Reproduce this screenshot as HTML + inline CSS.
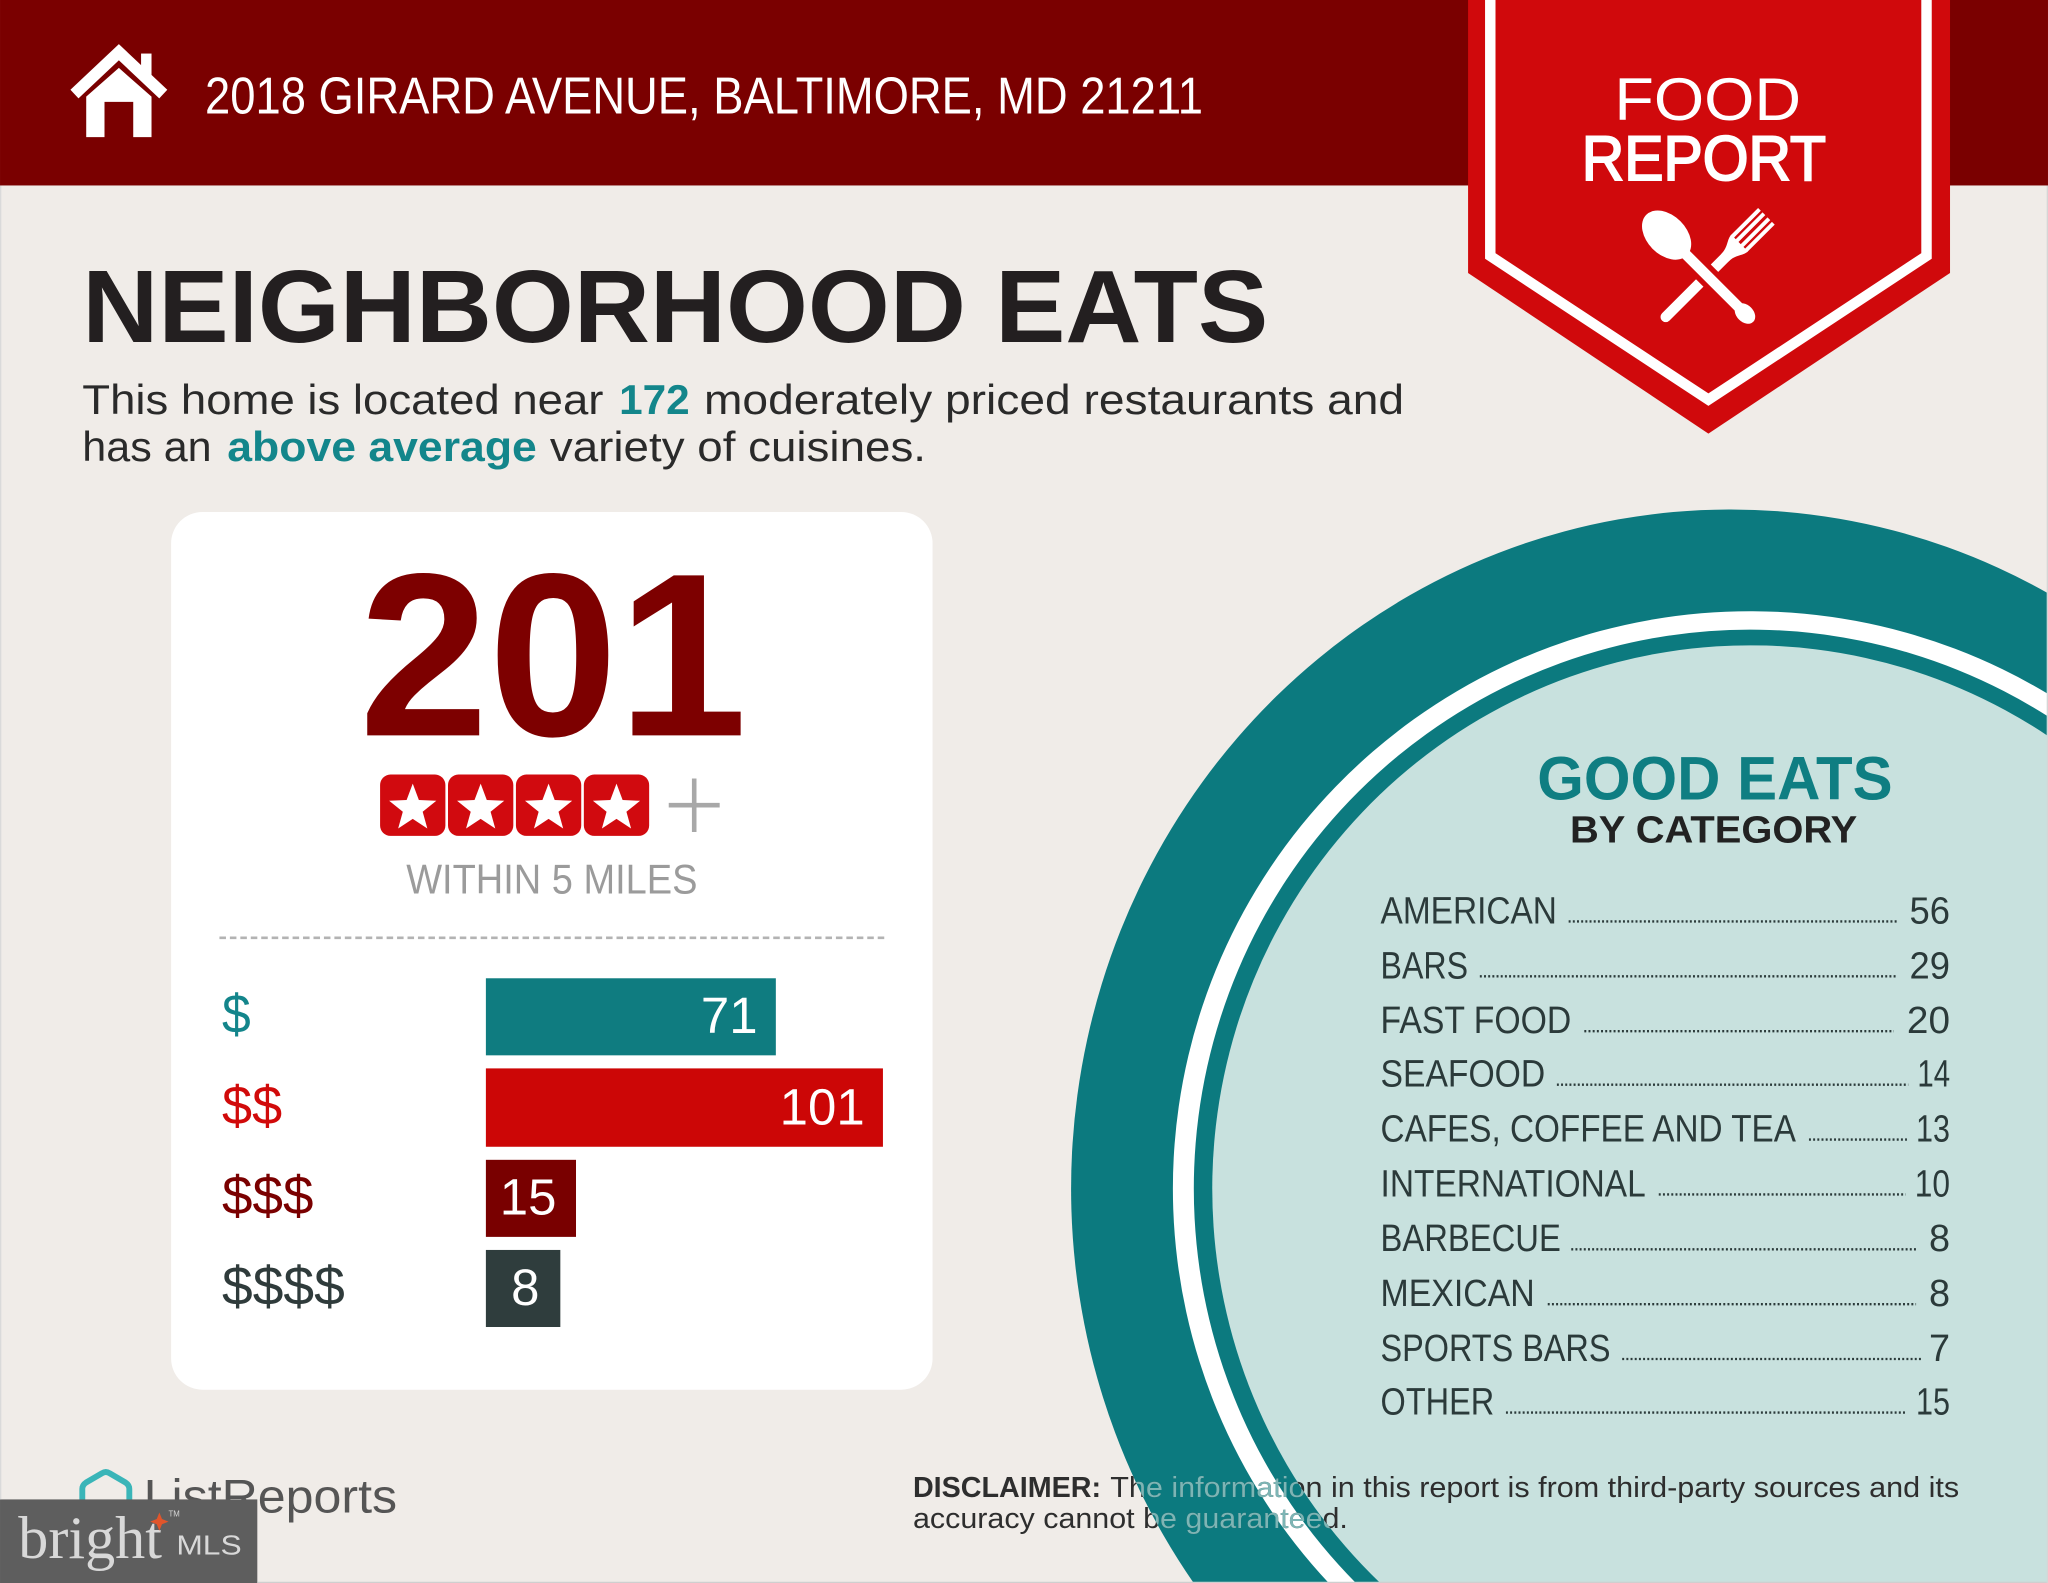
<!DOCTYPE html>
<html>
<head>
<meta charset="utf-8">
<style>
  html,body{margin:0;padding:0;background:#f0ece8;overflow:hidden;width:2048px;height:1583px;}
  svg{display:block;position:absolute;left:0;top:0;}
  text{font-family:"Liberation Sans", sans-serif;}
</style>
</head>
<body>
<svg width="2048" height="1583" viewBox="0 0 1568 1212" xmlns="http://www.w3.org/2000/svg">
  <defs>
    <clipPath id="ring">
      <path clip-rule="evenodd" d="M913.9,1212 A505,520 0 0,1 1568,454.2 L1568,1212 Z M1056.7,1212 A412,416 0 0,1 1568,563.5 L1568,1212 Z"/>
    </clipPath>
    <polygon id="star" points="0,-1 0.247,-0.340 0.951,-0.309 0.400,0.130 0.588,0.809 0,0.420 -0.588,0.809 -0.400,0.130 -0.951,-0.309 -0.247,-0.340" fill="#ffffff"/>
  </defs>

  <!-- background -->
  <rect x="0" y="0" width="1568" height="1212" fill="#f0ece8"/>

  <!-- big teal ellipse (clipped to frame) -->
  <path d="M913.9,1212 A505,520 0 0,1 1568,454.2 L1568,1212 Z" fill="#0c7a7f"/>
  <path d="M1017.3,1212 A442,442 0 0,1 1568,531.3 L1568,1212 Z" fill="#ffffff"/>
  <path d="M1038.1,1212 A426,428 0 0,1 1568,548.5 L1568,1212 Z" fill="#0c7a7f"/>
  <path d="M1056.7,1212 A412,416 0 0,1 1568,563.5 L1568,1212 Z" fill="#c8e1de"/>

  <!-- header band -->
  <rect x="0" y="0" width="1568" height="142" fill="#7a0000"/>

  <!-- house icon -->
  <polyline points="57,72 91,40 125,72" fill="none" stroke="#ffffff" stroke-width="9" stroke-linejoin="miter"/>
  <rect x="108" y="41" width="8" height="18" fill="#ffffff"/>
  <path fill-rule="evenodd" fill="#ffffff" d="M66,105 V74 L91,52 L116,74 V105 Z M80,105 V78 H102 V105 Z"/>

  <text x="157" y="87" font-size="40" fill="#ffffff" textLength="764" lengthAdjust="spacingAndGlyphs">2018 GIRARD AVENUE, BALTIMORE, MD 21211</text>

  <!-- food report banner -->
  <polygon points="1124,0 1493,0 1493,209 1308,332 1124,209" fill="#d0090c"/>
  <polyline points="1141,0 1141,196 1308,306 1475,196 1475,0" fill="none" stroke="#ffffff" stroke-width="8" stroke-linejoin="miter"/>
  <text x="1236" y="92" font-size="46" fill="#ffffff" textLength="143" lengthAdjust="spacingAndGlyphs">FOOD</text>
  <text x="1211" y="138" font-size="48" fill="#ffffff" stroke="#ffffff" stroke-width="1.5" textLength="187" lengthAdjust="spacingAndGlyphs">REPORT</text>

  <!-- fork -->
  <g transform="translate(1322,196) rotate(-45)" fill="#ffffff">
    <line x1="-66" y1="0" x2="0" y2="0" stroke="#ffffff" stroke-width="8" stroke-linecap="round"/>
    <path d="M-2,-4 C6,-4 9,-9 14,-9 L14,9 C9,9 6,4 -2,4 Z"/>
    <rect x="13" y="-9" width="30" height="3"/>
    <rect x="13" y="-4.2" width="30" height="3"/>
    <rect x="13" y="1.2" width="30" height="3"/>
    <rect x="13" y="6" width="30" height="3"/>
  </g>
  <!-- spoon -->
  <line x1="1299" y1="203" x2="1315" y2="219" stroke="#d0090c" stroke-width="16"/>
  <line x1="1288" y1="192" x2="1334" y2="238" stroke="#ffffff" stroke-width="8" stroke-linecap="round"/>
  <ellipse cx="1336" cy="240" rx="9" ry="6.5" transform="rotate(45 1336 240)" fill="#ffffff"/>
  <ellipse cx="1276" cy="180" rx="22" ry="15" transform="rotate(45 1276 180)" fill="#ffffff"/>

  <!-- title -->
  <text x="63" y="262" font-size="79" font-weight="bold" fill="#231f20" textLength="908" lengthAdjust="spacingAndGlyphs">NEIGHBORHOOD EATS</text>

  <!-- paragraph -->
  <text x="63" y="317" font-size="32" fill="#2a2a2a" textLength="399" lengthAdjust="spacingAndGlyphs">This home is located near</text>
  <text x="474" y="317" font-size="32" font-weight="bold" fill="#13868b" textLength="54" lengthAdjust="spacingAndGlyphs">172</text>
  <text x="539" y="317" font-size="32" fill="#2a2a2a" textLength="536" lengthAdjust="spacingAndGlyphs">moderately priced restaurants and</text>
  <text x="63" y="353" font-size="32" fill="#2a2a2a" textLength="99" lengthAdjust="spacingAndGlyphs">has an</text>
  <text x="174" y="353" font-size="32" font-weight="bold" fill="#13868b" textLength="237" lengthAdjust="spacingAndGlyphs">above average</text>
  <text x="421" y="353" font-size="32" fill="#2a2a2a" textLength="288" lengthAdjust="spacingAndGlyphs">variety of cuisines.</text>

  <!-- white card -->
  <rect x="131" y="392" width="583" height="672" rx="24" ry="24" fill="#ffffff"/>

  <text x="275" y="563" font-size="178" font-weight="bold" fill="#7d0000" textLength="297" lengthAdjust="spacingAndGlyphs">201</text>

  <!-- stars -->
  <g>
    <rect x="291" y="593" width="50" height="47" rx="8" fill="#d10a0f"/>
    <rect x="343" y="593" width="50" height="47" rx="8" fill="#d10a0f"/>
    <rect x="395" y="593" width="50" height="47" rx="8" fill="#d10a0f"/>
    <rect x="447" y="593" width="50" height="47" rx="8" fill="#d10a0f"/>
    <use href="#star" transform="translate(316,619) scale(19)"/>
    <use href="#star" transform="translate(368,619) scale(19)"/>
    <use href="#star" transform="translate(420,619) scale(19)"/>
    <use href="#star" transform="translate(472,619) scale(19)"/>
  </g>
  <line x1="512" y1="616.5" x2="551" y2="616.5" stroke="#a8a8a8" stroke-width="3.5"/>
  <line x1="531.5" y1="596" x2="531.5" y2="637" stroke="#a8a8a8" stroke-width="3.5"/>

  <text x="311" y="684" font-size="32" fill="#9b9b9b" textLength="223" lengthAdjust="spacingAndGlyphs">WITHIN 5 MILES</text>

  <line x1="168" y1="718" x2="677" y2="718" stroke="#b3b3b3" stroke-width="2" stroke-dasharray="5 3"/>

  <!-- bars -->
  <text x="170" y="791" font-size="42" fill="#13858b" textLength="22" lengthAdjust="spacingAndGlyphs">$</text>
  <text x="170" y="861" font-size="42" fill="#d10a0a" textLength="46" lengthAdjust="spacingAndGlyphs">$$</text>
  <text x="170" y="930" font-size="42" fill="#7a0000" textLength="70" lengthAdjust="spacingAndGlyphs">$$$</text>
  <text x="170" y="999" font-size="42" fill="#2f3b3b" textLength="94" lengthAdjust="spacingAndGlyphs">$$$$</text>

  <rect x="372" y="749" width="222" height="59" fill="#0f7c80"/>
  <rect x="372" y="818" width="304" height="60" fill="#cc0606"/>
  <rect x="372" y="888" width="69" height="59" fill="#790000"/>
  <rect x="372" y="957" width="57" height="59" fill="#2f3d3d"/>

  <text x="580" y="791" font-size="39" fill="#ffffff" text-anchor="end">71</text>
  <text x="662" y="861" font-size="39" fill="#ffffff" text-anchor="end">101</text>
  <text x="426" y="930" font-size="39" fill="#ffffff" text-anchor="end">15</text>
  <text x="413" y="999" font-size="39" fill="#ffffff" text-anchor="end">8</text>

  <!-- good eats -->
  <text x="1177" y="612" font-size="47" font-weight="bold" fill="#0f7e82" textLength="272" lengthAdjust="spacingAndGlyphs">GOOD EATS</text>
  <text x="1202" y="645" font-size="29" font-weight="bold" fill="#222222" textLength="220" lengthAdjust="spacingAndGlyphs">BY CATEGORY</text>

  <g font-size="29" fill="#2b3a3a">
    <text x="1057" y="707" textLength="135" lengthAdjust="spacingAndGlyphs">AMERICAN</text>
    <text x="1462" y="707" textLength="31" lengthAdjust="spacingAndGlyphs">56</text>
    <text x="1057" y="749" textLength="67" lengthAdjust="spacingAndGlyphs">BARS</text>
    <text x="1462" y="749" textLength="31" lengthAdjust="spacingAndGlyphs">29</text>
    <text x="1057" y="791" textLength="146" lengthAdjust="spacingAndGlyphs">FAST FOOD</text>
    <text x="1460" y="791" textLength="33" lengthAdjust="spacingAndGlyphs">20</text>
    <text x="1057" y="832" textLength="126" lengthAdjust="spacingAndGlyphs">SEAFOOD</text>
    <text x="1468" y="832" textLength="25" lengthAdjust="spacingAndGlyphs">14</text>
    <text x="1057" y="874" textLength="318" lengthAdjust="spacingAndGlyphs">CAFES, COFFEE AND TEA</text>
    <text x="1467" y="874" textLength="26" lengthAdjust="spacingAndGlyphs">13</text>
    <text x="1057" y="916" textLength="203" lengthAdjust="spacingAndGlyphs">INTERNATIONAL</text>
    <text x="1466" y="916" textLength="27" lengthAdjust="spacingAndGlyphs">10</text>
    <text x="1057" y="958" textLength="138" lengthAdjust="spacingAndGlyphs">BARBECUE</text>
    <text x="1493" y="958" text-anchor="end">8</text>
    <text x="1057" y="1000" textLength="118" lengthAdjust="spacingAndGlyphs">MEXICAN</text>
    <text x="1493" y="1000" text-anchor="end">8</text>
    <text x="1057" y="1042" textLength="176" lengthAdjust="spacingAndGlyphs">SPORTS BARS</text>
    <text x="1493" y="1042" text-anchor="end">7</text>
    <text x="1057" y="1083" textLength="87" lengthAdjust="spacingAndGlyphs">OTHER</text>
    <text x="1467" y="1083" textLength="26" lengthAdjust="spacingAndGlyphs">15</text>
  </g>
  <g stroke="#2b3a3a" stroke-width="1.8" stroke-dasharray="1.5 1.7">
    <line x1="1201" y1="705.5" x2="1453" y2="705.5"/>
    <line x1="1133" y1="747.5" x2="1453" y2="747.5"/>
    <line x1="1213" y1="789.5" x2="1450" y2="789.5"/>
    <line x1="1192" y1="830.5" x2="1461" y2="830.5"/>
    <line x1="1385" y1="872.5" x2="1460" y2="872.5"/>
    <line x1="1270" y1="914.5" x2="1459" y2="914.5"/>
    <line x1="1203" y1="956.5" x2="1467" y2="956.5"/>
    <line x1="1185" y1="998.5" x2="1467" y2="998.5"/>
    <line x1="1242" y1="1040.5" x2="1472" y2="1040.5"/>
    <line x1="1153" y1="1081.5" x2="1460" y2="1081.5"/>
  </g>

  <!-- disclaimer -->
  <g font-size="22" fill="#2e2e2e">
    <text x="699" y="1146" font-weight="bold" textLength="144" lengthAdjust="spacingAndGlyphs">DISCLAIMER:</text>
    <text x="850" y="1146" textLength="650" lengthAdjust="spacingAndGlyphs">The information in this report is from third-party sources and its</text>
    <text x="699" y="1170" textLength="333" lengthAdjust="spacingAndGlyphs">accuracy cannot be guaranteed.</text>
  </g>
  <g font-size="22" fill="#7db5b5" clip-path="url(#ring)">
    <text x="850" y="1146" textLength="650" lengthAdjust="spacingAndGlyphs">The information in this report is from third-party sources and its</text>
    <text x="699" y="1170" textLength="333" lengthAdjust="spacingAndGlyphs">accuracy cannot be guaranteed.</text>
  </g>

  <!-- ListReports logo -->
  <path d="M63,1160 V1140 Q63,1137 66,1135 L78,1128 Q81,1126 84,1128 L96,1135 Q99,1137 99,1140 V1160" fill="none" stroke="#3ab5b8" stroke-width="4.5" stroke-linejoin="round"/>
  <text x="110" y="1158" font-size="36" fill="#555555" textLength="194" lengthAdjust="spacingAndGlyphs">ListReports</text>

  <!-- bright MLS box -->
  <rect x="0" y="1148" width="197" height="64" fill="#5e5e5e"/>
  <text x="14" y="1193" font-size="46" fill="#d8d8d8" style="font-family:'Liberation Serif', serif" textLength="110" lengthAdjust="spacingAndGlyphs">bright</text>
  <polygon points="122,1158 124,1163 129,1165 124,1167 122,1172 120,1167 115,1165 120,1163" fill="#e0552b"/>
  <text x="129" y="1161" font-size="6" fill="#d8d8d8">TM</text>
  <text x="135" y="1190" font-size="21" fill="#d8d8d8" textLength="50" lengthAdjust="spacingAndGlyphs">MLS</text>

  <!-- faint border -->
  <line x1="197" y1="1211.5" x2="1568" y2="1211.5" stroke="#cfcfcf" stroke-width="1"/>
  <line x1="0.5" y1="142" x2="0.5" y2="1148" stroke="#dadada" stroke-width="1"/>
  <line x1="1567.5" y1="142" x2="1567.5" y2="1212" stroke="#d6d6d6" stroke-width="1"/>
</svg>
</body>
</html>
